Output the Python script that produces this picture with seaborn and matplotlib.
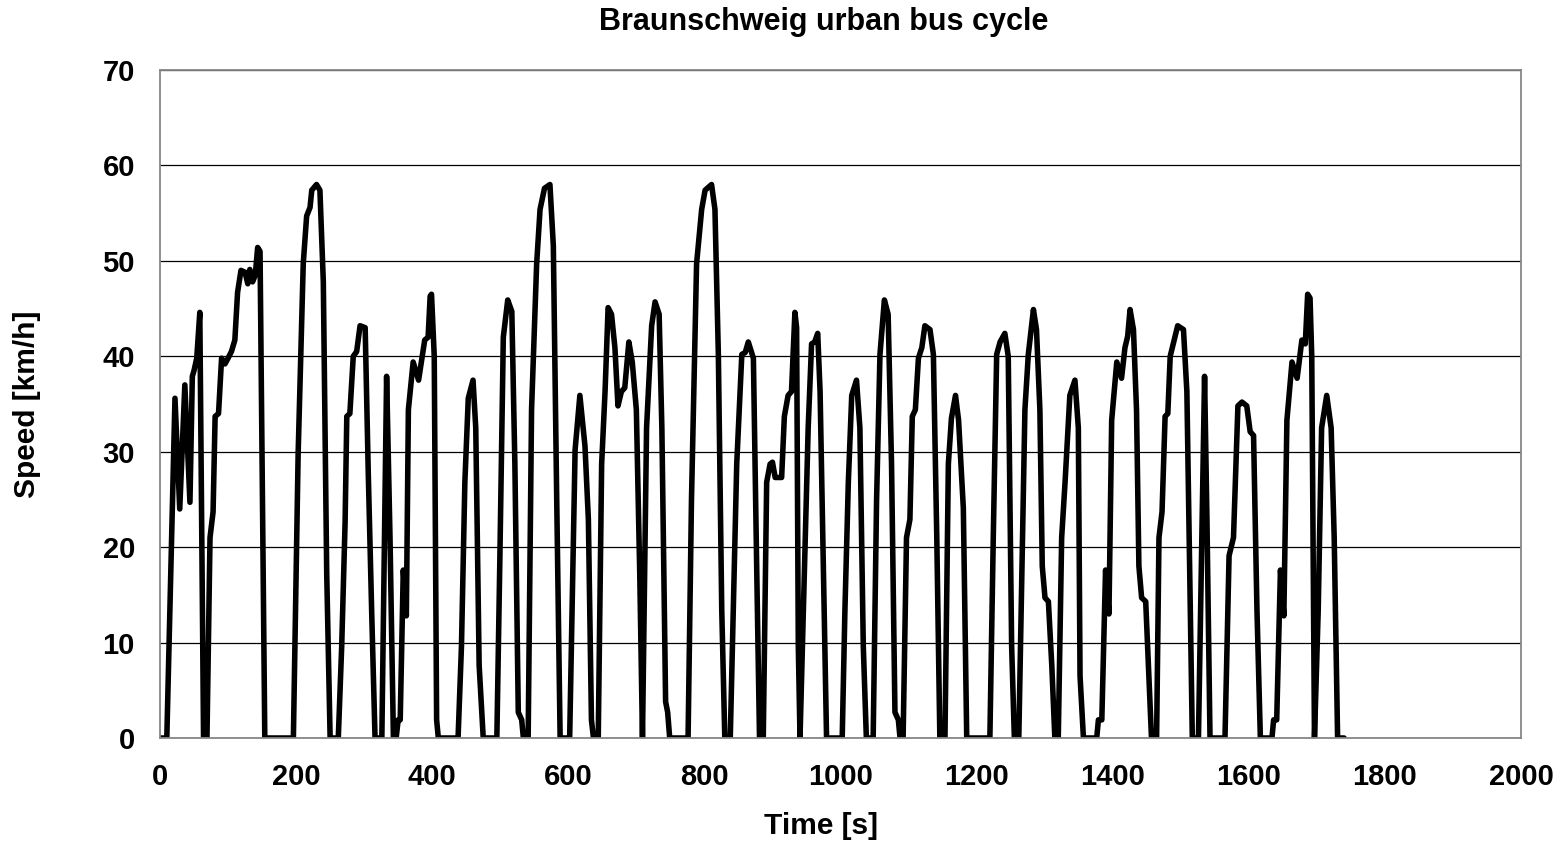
import numpy as np
import pandas as pd
import matplotlib
matplotlib.use("Agg")
import matplotlib.pyplot as plt
import seaborn as sns

# Braunschweig 城市公交循环: 关键点 (时间 s, 车速 km/h)
time_s = [
    0, 10, 22, 29, 36.5, 44, 47.5, 50, 54, 58.5, 64, 69,
    73.5, 78, 81, 86, 90.5, 95.5, 100, 105, 110, 114, 119, 125, 129, 132, 136, 140, 143.5, 147, 154,
    196, 203, 210.5, 215.5, 220.5, 223, 230, 235, 240, 245, 250,
    262, 267, 272, 274.5, 279, 284, 289, 294, 301.5, 306, 311, 316,
    326, 333, 338, 343,
    347, 350, 353, 357.5, 362, 365, 372, 380, 389, 394, 397, 399, 403, 406.5, 409,
    438, 443, 448, 453, 460, 464, 469, 475,
    495, 499.5, 504.5, 511, 517, 521.5, 526.5, 531.5, 534,
    541, 546, 553.5, 558.5, 565, 573, 578, 583, 588,
    602, 610, 617, 624.5, 629.5, 634, 637,
    644, 649, 654, 658.5, 663.5, 668.5, 673, 678, 683, 689, 694, 700, 705, 709,
    715, 722.5, 727.5, 733.5, 737.5, 743, 746, 749,
    776, 781, 788.5, 796, 801, 810.5, 815.5, 820.5, 825.5, 830,
    838, 847.5, 855, 860, 864.5, 872, 877, 881,
    886.5, 891.5, 896.5, 900, 904, 913.5, 917.5, 923, 928, 933, 935.5, 938, 940.5,
    945.5, 952.5, 957.5, 962, 966.5, 970, 975, 979.5,
    1002.5, 1006.5, 1011.5, 1016.5, 1023.5, 1028.5, 1033.5, 1038,
    1048, 1053, 1058, 1064.5, 1070, 1075, 1080, 1085, 1087.5,
    1092, 1097, 1102, 1105.5, 1110, 1114.5, 1119.5, 1124, 1131.5, 1136.5, 1141.5, 1146,
    1153.5, 1158.5, 1163, 1169, 1173.5, 1180.5, 1185.5,
    1219.5, 1224.5, 1229.5, 1234.5, 1241.5, 1246.5, 1251.5, 1255.5,
    1262, 1271, 1276, 1283.5, 1288, 1293, 1296.5, 1300.5, 1305.5, 1310.5, 1315,
    1320, 1325, 1330, 1337, 1344.5, 1349.5, 1352, 1357,
    1376.5, 1379, 1384, 1389.5, 1394.5, 1398.5, 1406, 1413, 1418, 1422, 1425.5, 1430.5, 1435,
    1438.5, 1442.5, 1448.5, 1452.5, 1457,
    1464.5, 1468, 1472.5, 1477, 1481, 1484.5, 1489, 1495.5, 1504, 1509, 1514, 1517,
    1526, 1535, 1538.5, 1543,
    1565, 1571, 1577.5, 1584, 1590, 1597, 1602, 1607, 1612, 1617,
    1634, 1636.5, 1641, 1646.5, 1651.5, 1656, 1663.5, 1671, 1678, 1683, 1686.5, 1690, 1692.5, 1696.5,
    1702, 1707, 1714.5, 1721, 1725.5, 1730.5, 1740,
]
speed_kmh = [
    0, 0, 35.6, 24, 37, 24.7, 37.9, 38.5, 39.8, 44.6, 0, 0,
    21, 23.7, 33.7, 34, 39.8, 39.2, 39.8, 40.5, 41.7, 46.7, 49, 48.8, 47.6, 49.1, 47.8, 48.5, 51.4, 51, 0,
    0, 29.8, 49.7, 54.7, 55.6, 57.4, 58, 57.4, 47.8, 17.2, 0,
    0, 9.6, 22.6, 33.7, 34, 40, 40.5, 43.2, 43, 27.9, 13.4, 0,
    0, 37.9, 21, 0,
    0, 1.9, 1.9, 17.6, 12.8, 34.4, 39.4, 37.5, 41.7, 42, 46.3, 46.5, 40, 1.9, 0,
    0, 9.6, 26.8, 35.6, 37.5, 32.5, 7.6, 0,
    0, 19.1, 42, 45.9, 44.7, 28.7, 2.7, 1.9, 0,
    0, 34.4, 49.7, 55.4, 57.6, 58, 51.6, 24.9, 0,
    0, 30.2, 35.9, 30.6, 22.9, 1.9, 0,
    0, 28.7, 36.3, 45.1, 44.4, 40.9, 34.8, 36.3, 36.7, 41.5, 39.4, 34.4, 17.2, 0,
    32.5, 43.2, 45.7, 44.4, 32.5, 3.8, 2.7, 0,
    0, 24.9, 49.7, 55.4, 57.4, 58, 55.4, 40.2, 13.4, 0,
    0, 28.7, 40.2, 40.4, 41.5, 39.8, 17.2, 0,
    0, 26.8, 28.7, 28.9, 27.3, 27.3, 33.7, 35.9, 36.3, 44.6, 43, 9.6, 0,
    13.4, 32.5, 41.3, 41.5, 42.4, 36.3, 17.2, 0,
    0, 13.4, 26.8, 35.9, 37.5, 32.5, 9.6, 0,
    0, 24.9, 40.2, 45.9, 44.4, 28.7, 2.7, 1.9, 0,
    0, 21, 22.9, 33.7, 34.4, 39.8, 40.9, 43.2, 42.8, 40.2, 21, 0,
    0, 28.7, 33.5, 35.9, 33.3, 24.1, 0,
    0, 21, 40.2, 41.5, 42.4, 40, 9.6, 0,
    0, 34.4, 40.2, 44.9, 42.8, 34.4, 18, 14.7, 14.3, 7.6, 0,
    0, 21, 26.8, 35.9, 37.5, 32.5, 6.5, 0,
    0, 1.9, 1.9, 17.6, 13, 33.3, 39.4, 37.7, 40.9, 42.1, 44.9, 42.8, 34.4,
    18, 14.7, 14.3, 7.6, 0,
    0, 21, 23.7, 33.7, 34, 40, 41.3, 43.2, 42.8, 36.3, 13.4, 0,
    0, 37.9, 22.9, 0,
    0, 19.1, 21, 34.8, 35.2, 34.8, 32.1, 31.7, 13.4, 0,
    0, 1.9, 1.9, 17.6, 12.8, 33.3, 39.4, 37.7, 41.7, 41.3, 46.5, 46.1, 40, 0,
    13.4, 32.5, 35.9, 32.5, 21, 0, 0,
]
x_ticks = list(range(0, 2001, 200))
y_ticks = list(range(0, 71, 10))

cycle = pd.DataFrame({"time": time_s, "speed": speed_kmh})

sns.set_style("white")
plt.rcParams["font.family"] = ["Liberation Sans", "DejaVu Sans"]
plt.rcParams["font.weight"] = "bold"
plt.rcParams["text.color"] = "black"
plt.rcParams["axes.labelcolor"] = "black"

fig = plt.figure(figsize=(15.68, 8.42), dpi=100)
ax = fig.add_axes([160 / 1568, 1 - 738 / 842, (1521 - 160) / 1568, (738 - 70) / 842])

sns.lineplot(data=cycle, x="time", y="speed", ax=ax, color="black",
             linewidth=4.0, sort=False, estimator=None)
ax.lines[0].set_solid_joinstyle("round")
ax.lines[0].set_solid_capstyle("round")

ax.set_xlim(0, 2000)
ax.set_ylim(0, 70)
ax.set_xticks(x_ticks)
ax.set_yticks(y_ticks)
ax.yaxis.grid(True, color="black", linewidth=0.9)
ax.xaxis.grid(False)
ax.set_axisbelow(True)
for s in ax.spines.values():
    s.set_color("#878787")
    s.set_linewidth(1.3)
ax.tick_params(axis="both", direction="out", length=6, width=1.3, color="#878787",
               labelcolor="black", labelsize=21, pad=12)
for lab in ax.get_xticklabels() + ax.get_yticklabels():
    lab.set_fontweight("bold")

ax.set_xlabel("Time [s]", fontsize=21.5, fontweight="bold")
ax.set_ylabel("Speed [km/h]", fontsize=21.5, fontweight="bold")
ax.xaxis.set_label_coords((821 - 160) / (1521 - 160), -(826 - 738) / (738 - 70))
ax.yaxis.set_label_coords(-(160 - 27) / (1521 - 160), 0.5)
ax.xaxis.label.set_va("center")
ax.yaxis.label.set_va("center")
fig.text(824 / 1568, 1 - 22 / 842, "Braunschweig urban bus cycle",
         ha="center", va="center", fontsize=22, fontweight="bold")

fig.savefig("out.png", dpi=100)
